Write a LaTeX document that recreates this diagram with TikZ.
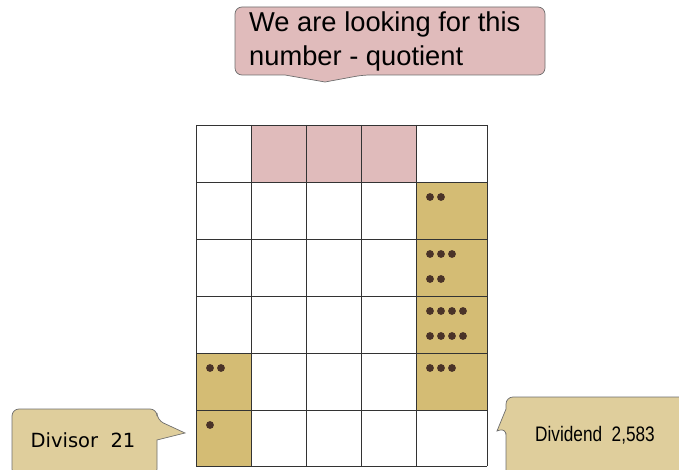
\documentclass[tikz,border=0pt]{standalone}
\usepackage{fontspec}
\setmainfont{Liberation Sans}
\newfontfamily\narrowfont[FakeStretch=0.82]{Liberation Sans}
\newfontfamily\widefont{DejaVu Sans}
\definecolor{pinkfill}{HTML}{E0BBBB}
\definecolor{tanfill}{HTML}{D4BC74}
\definecolor{calltan}{HTML}{DFCE9C}
\definecolor{dotbrown}{HTML}{4A3328}
\definecolor{edgegray}{HTML}{6E6E6E}
\tikzset{
  cellline/.style={draw=black!80, line width=0.8pt},
  bead/.style={fill=dotbrown, draw=none},
  callout/.style={draw=edgegray, line width=0.7pt, rounded corners=7pt},
  ctext/.style={inner sep=0pt, anchor=center}
}
\begin{document}
\begin{tikzpicture}[x=1pt,y=-1pt]
\useasboundingbox (0,0) rectangle (679,470);
% fills
\fill[pinkfill] (251,125) rectangle (416,182);
\fill[tanfill] (416,182) rectangle (487,410);
\fill[tanfill] (196,353) rectangle (251,466);
% grid
\foreach \x in {196,251,306,361,416,487} \draw[cellline] (\x,125) -- (\x,466);
\foreach \y in {125,182,239,296,353,410,466} \draw[cellline] (196,\y) -- (487,\y);
% beads
\foreach \x in {430,441} \fill[bead] (\x,197) circle (3.9);
\foreach \x in {430,441,452} \fill[bead] (\x,254) circle (3.9);
\foreach \x in {430,441} \fill[bead] (\x,279) circle (3.9);
\foreach \x in {430,441,452,463} \fill[bead] (\x,311) circle (3.9);
\foreach \x in {430,441,452,463} \fill[bead] (\x,336) circle (3.9);
\foreach \x in {430,441,452} \fill[bead] (\x,368) circle (3.9);
\foreach \x in {210,221} \fill[bead] (\x,368) circle (3.9);
\fill[bead] (210,425) circle (3.9);
% top callout
\draw[callout, fill=pinkfill] (235,40) -- (235,7) -- (545,7) -- (545,75) -- (363,75)
  [sharp corners] -- (325,82) -- (285,75) [rounded corners=7pt] -- (235,75) -- cycle;
\node[ctext, anchor=west, font=\fontsize{27.3}{34}\selectfont, align=left] (quot) at (249,41)
  {We are looking for this\\number - quotient};
% divisor callout
\draw[callout, fill=calltan] (12,440) -- (12,409) -- (157,409) -- (157,420)
  [sharp corners] -- (185,433) -- (157,440) [rounded corners=7pt] -- (157,476) -- (12,476) -- cycle;
\node[ctext, font=\widefont\fontsize{19.5}{22}\selectfont] (divisor) at (83,440) {Divisor\ \ 21};
% dividend callout
\draw[callout, fill=calltan] (506,440) -- (506,428) [sharp corners] -- (497,431) -- (506,409)
  [rounded corners=7pt] -- (506,397) -- (690,397) -- (690,480) -- (506,480) -- cycle;
\node[ctext, font=\narrowfont\fontsize{21}{24}\selectfont] (dividend) at (595,435) {Dividend\ \ 2,583};
\end{tikzpicture}
\end{document}
